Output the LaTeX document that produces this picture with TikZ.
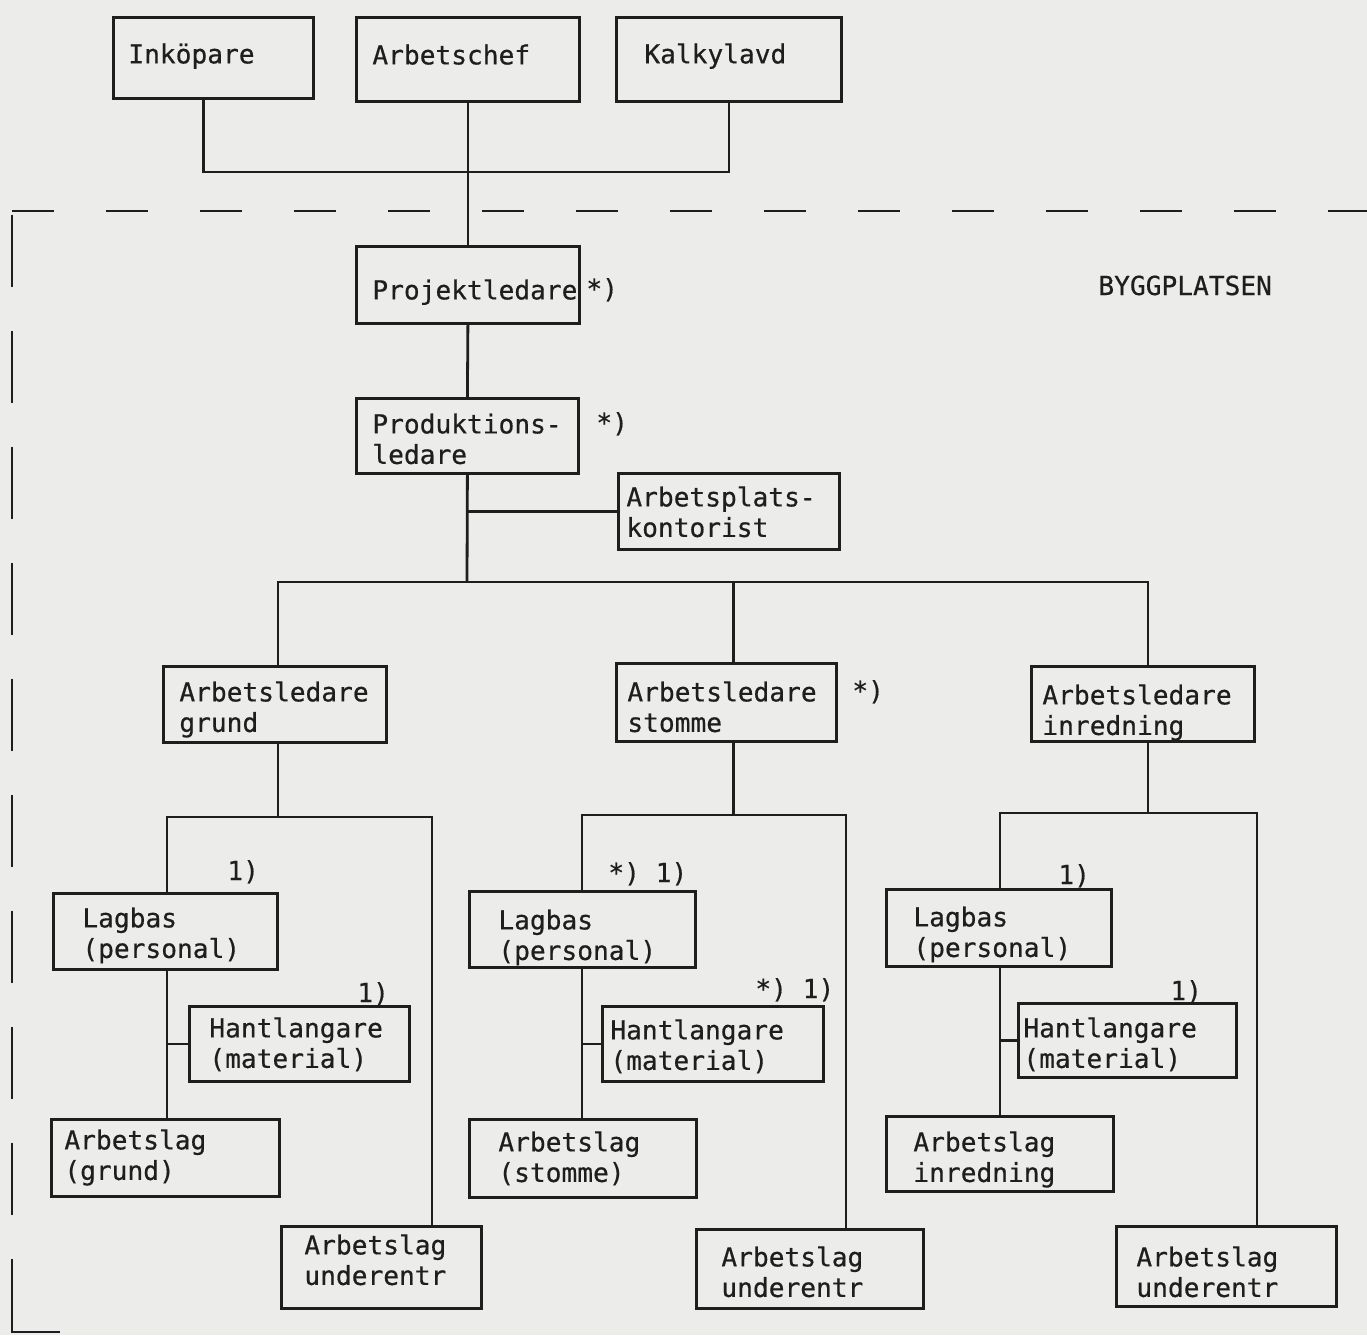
\documentclass[tikz,border=0pt]{standalone}
\usepackage{fontspec}
\setmonofont{DejaVu Sans Mono}[FakeBold=0.5]
\usetikzlibrary{positioning}
\definecolor{paper}{RGB}{236,236,234}
\definecolor{ink}{RGB}{30,30,30}
\newcommand{\boxfont}{\fontsize{26.2}{30.5}\selectfont\ttfamily\hyphenpenalty=10000\exhyphenpenalty=10000}

\begin{document}
\begin{tikzpicture}[x=1pt, y=-1pt, line width=2.8pt, color=ink,
  box/.style n args={4}{draw, anchor=north west, font=\boxfont, align=left,
    inner ysep=0pt, inner xsep=#3pt, minimum width=#1pt, minimum height=#2pt,
    /utils/exec={\pgfmathsetmacro{\boxtw}{#1-2*#3}\pgfmathsetmacro{\boxtd}{#2-#4}},
    text width=\boxtw pt, text height=#4pt, text depth=\boxtd pt},
  note/.style={anchor=base west, font=\boxfont, inner sep=0pt}]
% Paper and page size
\fill[paper] (0,0) rectangle (1367,1335);
\useasboundingbox (0,0) rectangle (1367,1335);

% Head office
\node[box={200}{81}{15}{46}] (inkop) at (112,16) {Inköpare};
\node[box={223}{84}{16}{47}] (chef) at (355,16) {Arbetschef};
\node[box={225}{84}{28}{46}] (kalk) at (615,16) {Kalkylavd};

% Site management
\node[box={223}{77}{16}{53}] (projl) at (355,245) {Projektledare};
\node[box={222}{75}{16}{35}] (prodl) at (355,397) {Produktions-\\ledare};
\node[box={221}{76}{8}{33}] (kont) at (617,472) {Arbetsplats-\\kontorist};

% Foremen
\node[box={223}{76}{16}{35}] (ald1) at (162,665) {Arbetsledare\\grund};
\node[box={220}{78}{11}{38}] (ald2) at (615,662) {Arbetsledare\\stomme};
\node[box={223}{75}{11}{38}] (ald3) at (1030,665) {Arbetsledare\\inredning};

% Gangs, one column per foreman
\node[box={224}{76}{29}{34}] (lag1) at (52,892) {Lagbas\\(personal)};
\node[box={226}{76}{29}{38}] (lag2) at (468,890) {Lagbas\\(personal)};
\node[box={225}{77}{27}{37}] (lag3) at (885,888) {Lagbas\\(personal)};

\node[box={220}{75}{20}{31}] (hl1) at (188,1005) {Hantlangare\\(material)};
\node[box={221}{75}{8}{33}] (hl2) at (601,1005) {Hantlangare\\(material)};
\node[box={218}{74}{5}{34}] (hl3) at (1017,1002) {Hantlangare\\(material)};

\node[box={228}{77}{13}{30}] (al1) at (50,1118) {Arbetslag\\(grund)};
\node[box={227}{78}{29}{32}] (al2) at (468,1118) {Arbetslag\\(stomme)};
\node[box={227}{75}{27}{35}] (al3) at (885,1115) {Arbetslag\\inredning};

\node[box={200}{82}{23}{28}] (ue1) at (280,1225) {Arbetslag\\underentr};
\node[box={227}{79}{25}{37}] (ue2) at (695,1228) {Arbetslag\\underentr};
\node[box={220}{80}{20}{40}] (ue3) at (1115,1225) {Arbetslag\\underentr};

% Footnote marks
\node[note] (n-projl) at (585,298) {*)};
\node[note] (n-prodl) at (595,432) {*)};
\node[note] (n-ald2) at (851,700) {*)};
\node[note] (n-lag1) at (226,880) {1)};
\node[note] (n-lag2) at (607,882) {*) 1)};
\node[note] (n-lag3) at (1057,884) {1)};
\node[note] (n-hl1) at (356,1002) {1)};
\node[note] (n-hl2) at (754,998) {*) 1)};
\node[note] (n-hl3) at (1169,1000) {1)};
\node[note] (byggplats) at (1097,295) {BYGGPLATSEN};

% Head office down to the site
\coordinate (topbus) at (467,172);
\draw ([xshift=-10pt]inkop.south) |- (topbus) -| (kalk.south);
\draw (chef.south) -- (projl.north);
\draw (projl.south) -- (prodl.north);

% Drop points of the foremen, a little right of centre
\coordinate (gtop) at ([xshift=3pt]ald1.north);
\coordinate (gbot) at ([xshift=3pt]ald1.south);
\coordinate (stop) at ([xshift=7pt]ald2.north);
\coordinate (sbot) at ([xshift=7pt]ald2.south);
\coordinate (itop) at ([xshift=5pt]ald3.north);
\coordinate (ibot) at ([xshift=5pt]ald3.south);

% Site office and foremen
\coordinate (midbus) at (467,582);
\draw (prodl.south) -- (midbus);
\draw (kont.west) -- (kont.west -| prodl.south);
\draw (gtop) |- (midbus) -| (itop);
\draw (midbus -| stop) -- (stop);

% Column: grund
\coordinate (gL) at (167,817);
\coordinate (gR) at (432,817);
\draw (gbot) -- (gbot |- gL);
\draw (lag1.north -| gL) -- (gL) -- (gR) -- (gR |- ue1.north);
\draw (lag1.south -| gL) -- (al1.north -| gL);
\draw (hl1.west) -- (hl1.west -| gL);

% Column: stomme
\coordinate (sL) at (582,815);
\coordinate (sR) at (846,815);
\draw (sbot) -- (sbot |- sL);
\draw (lag2.north -| sL) -- (sL) -- (sR) -- (sR |- ue2.north);
\draw (lag2.south -| sL) -- (al2.north -| sL);
\draw (hl2.west) -- (hl2.west -| sL);

% Column: inredning
\coordinate (iL) at (1000,813);
\coordinate (iR) at (1257,813);
\draw (ibot) -- (ibot |- iL);
\draw (lag3.north -| iL) -- (iL) -- (iR) -- (iR |- ue3.north);
\draw (lag3.south -| iL) -- (al3.north -| iL);
\draw (hl3.west) -- (hl3.west -| iL);

% Site boundary
\draw[dash pattern=on 42pt off 52pt] (12,211) -- (1367,211);
\draw[dash pattern=on 72pt off 44pt] (12,215) -- (12,1250);
\draw (12,1259) -- (12,1332) -- (60,1332);
\end{tikzpicture}
\end{document}
